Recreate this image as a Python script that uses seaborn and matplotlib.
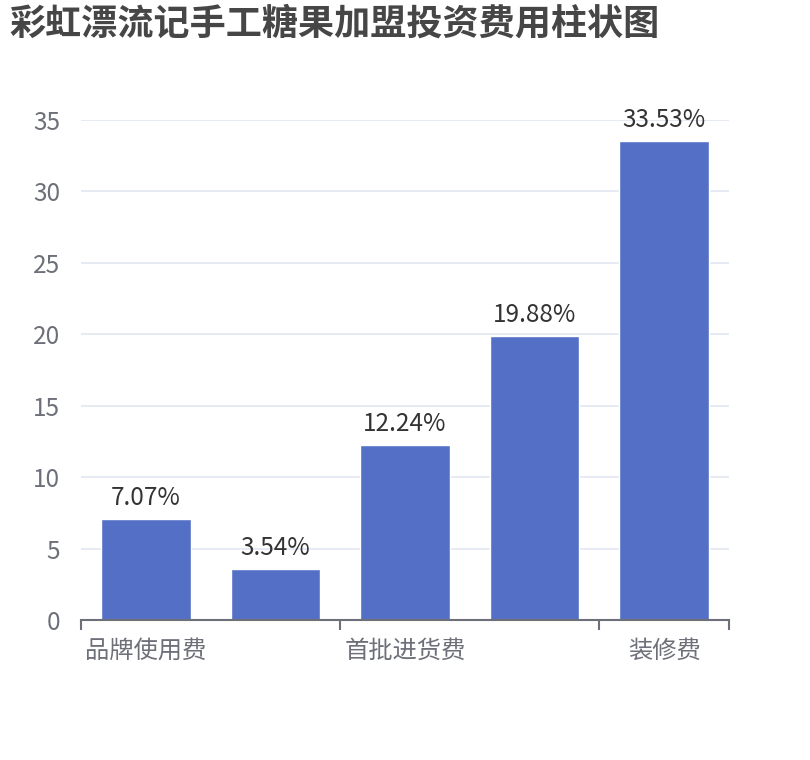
import matplotlib
matplotlib.use('Agg')
import matplotlib.pyplot as plt
import seaborn as sns
import pandas as pd

# data
categories = ['品牌使用费', '类别2', '首批进货费', '类别4', '装修费']
shown_labels = ['品牌使用费', '', '首批进货费', '', '装修费']
values = [7.07, 3.54, 12.24, 19.88, 33.53]
y_ticks = [0, 5, 10, 15, 20, 25, 30, 35]

df = pd.DataFrame({'name': categories, 'value': values})

sns.set_theme(style='white')
plt.rcParams['font.family'] = ['Noto Sans CJK SC', 'DejaVu Sans']

fig = plt.figure(figsize=(8.1, 7.6), dpi=100)
ax = fig.add_axes([0.1, 0.1842, 0.8, 0.658])

sns.barplot(data=df, x='name', y='value', color='#5470c6', saturation=1,
            width=0.69, ax=ax, zorder=3)

ax.set_ylim(0, 35)
ax.set_xlim(-0.5, len(categories) - 0.5)
ax.set_yticks(y_ticks)
ax.set_yticklabels([str(t) for t in y_ticks])
ax.yaxis.grid(True, color='#e0e6f1', linewidth=1.2, zorder=0)
ax.xaxis.grid(False)

# category labels every second tick, ticks on band edges (echarts style)
ax.set_xticks(range(len(categories)))
ax.set_xticklabels(shown_labels)
ax.set_xticks([-0.5, 1.5, 3.5, 4.5], minor=True)
ax.tick_params(axis='x', which='major', length=0, pad=13, labelsize=17.5, colors='#6e7079')
ax.tick_params(axis='x', which='minor', bottom=True, length=7, width=1.5,
               color='#6e7079', direction='out')
ax.tick_params(axis='y', length=0, pad=15, labelsize=17.5, colors='#6e7079')

for s in ['top', 'right', 'left']:
    ax.spines[s].set_visible(False)
ax.spines['bottom'].set_color('#6e7079')
ax.spines['bottom'].set_linewidth(1.5)
ax.spines['bottom'].set_zorder(5)

ax.set_xlabel('')
ax.set_ylabel('')

for c in ax.containers:
    ax.bar_label(c, labels=[f'{v:.2f}%' for v in values], padding=6,
                 fontsize=17.5, color='#333333')

fig.text(0.012, 0.992, '彩虹漂流记手工糖果加盟投资费用柱状图', ha='left', va='top',
         fontsize=26, fontweight='bold', color='#464646')

fig.savefig('out.png', dpi=100)
